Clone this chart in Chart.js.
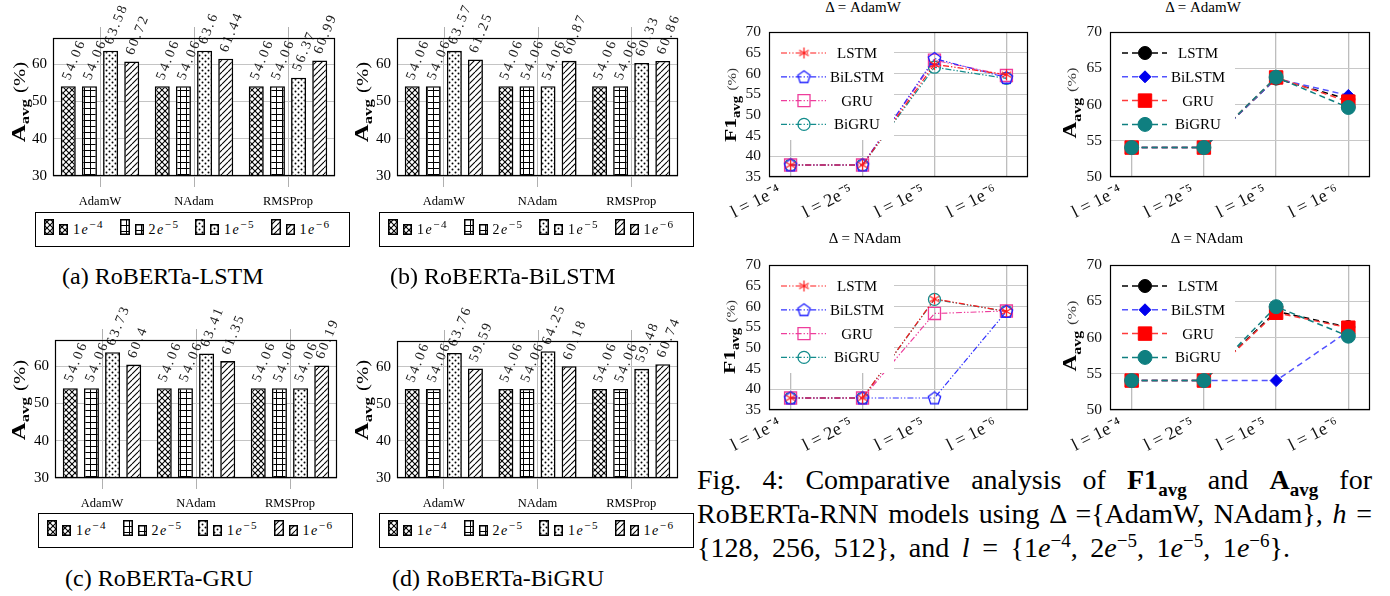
<!DOCTYPE html>
<html>
<head>
<meta charset="utf-8">
<title>Fig. 4</title>
<script src="https://cdn.jsdelivr.net/npm/chart.js@4.4.1/dist/chart.umd.min.js"></script>
<style>
html,body{margin:0;padding:0;background:#fff}
body{position:relative;width:1390px;height:596px;overflow:hidden;font-family:'Liberation Serif','Times New Roman',serif;color:#000}
canvas{position:absolute;display:block}
.t{position:absolute;white-space:nowrap;line-height:1}
.ctr{transform:translate(-50%,-50%)}
.yt{position:absolute;white-space:nowrap;line-height:1}
sub,sup{line-height:0;font-size:68%}
.blg{position:absolute;border:1px solid #000;box-sizing:border-box;background:#fff}
.blg .lab{position:absolute;font-size:14px;letter-spacing:1.5px;line-height:1;white-space:nowrap}
.blg .lab sup{font-size:80%}
.cap{position:absolute;left:697px;font-size:28px;line-height:34px;white-space:nowrap}
.sc{position:absolute;font-size:24px;line-height:1;white-space:nowrap;transform:translateY(-50%)}
</style>
</head>
<body>
<script>
// ---------------- data ----------------
const optimizers = ['AdamW', 'NAdam', 'RMSProp'];
const lrBase = ['1', '2', '1', '1'];
const lrExp = ['\u22124', '\u22125', '\u22125', '\u22126'];
const lrTicks = ['l = 1e\u207B\u2074', 'l = 2e\u207B\u2075', 'l = 1e\u207B\u2075', 'l = 1e\u207B\u2076'];
const models = ['LSTM', 'BiLSTM', 'GRU', 'BiGRU'];
const barYTicks = [30, 40, 50, 60];
const f1YTicks = [35, 40, 45, 50, 55, 60, 65, 70];
const accYTicks = [50, 55, 60, 65, 70];

// A_avg (%) per model and optimizer; learning rates 1e-4, 2e-5, 1e-5, 1e-6
const lstmAdamW = [54.06, 54.06, 63.58, 60.72];
const lstmNAdam = [54.06, 54.06, 63.6, 61.44];
const lstmRMSProp = [54.06, 54.06, 56.37, 60.99];
const bilstmAdamW = [54.06, 54.06, 63.57, 61.25];
const bilstmNAdam = [54.06, 54.06, 54.06, 60.87];
const bilstmRMSProp = [54.06, 54.06, 60.33, 60.86];
const gruAdamW = [54.06, 54.06, 63.73, 60.4];
const gruNAdam = [54.06, 54.06, 63.41, 61.35];
const gruRMSProp = [54.06, 54.06, 54.06, 60.19];
const bigruAdamW = [54.06, 54.06, 63.76, 59.59];
const bigruNAdam = [54.06, 54.06, 64.25, 60.18];
const bigruRMSProp = [54.06, 54.06, 59.48, 60.74];

// F1_avg (%)
const f1AdamW_LSTM = [37.9, 37.9, 62.2, 59.7];
const f1AdamW_BiLSTM = [37.9, 37.9, 63.6, 59.0];
const f1AdamW_GRU = [37.9, 37.9, 63.2, 59.5];
const f1AdamW_BiGRU = [37.9, 37.9, 61.5, 58.8];
const f1NAdam_LSTM = [37.9, 37.9, 61.8, 58.8];
const f1NAdam_BiLSTM = [37.9, 37.9, 37.9, 58.8];
const f1NAdam_GRU = [37.9, 37.9, 58.3, 58.9];
const f1NAdam_BiGRU = [37.9, 37.9, 61.7, 58.8];

// ---------------- helpers ----------------
Chart.defaults.font.family = "'Liberation Serif', 'Times New Roman', serif";
Chart.defaults.color = '#111';

function mkCanvas(p) {
  const c = document.createElement('canvas');
  c.width = p.w; c.height = p.h;
  Object.assign(c.style, {left: p.x + 'px', top: p.y + 'px', width: p.w + 'px', height: p.h + 'px'});
  document.body.appendChild(c);
  return c;
}
function fixedLayout(p, a) {
  return {padding: {left: 0, right: p.x + p.w - a.r, top: a.t - p.y, bottom: 0}, autoPadding: false};
}
function yFit(p, a) { return s => { s.width = a.l - p.x; s.paddingTop = 0; s.paddingBottom = 0; }; }
function xFit(p, a) { return s => { s.height = p.y + p.h - a.b; s.paddingLeft = 0; s.paddingRight = 0; }; }

// tiles for bar patterns
function tile(kind) {
  const s = 6;
  const c = document.createElement('canvas'); c.width = s; c.height = s;
  const g = c.getContext('2d');
  g.fillStyle = '#fff'; g.fillRect(0, 0, s, s);
  g.strokeStyle = '#000'; g.fillStyle = '#000'; g.lineWidth = 1.1;
  if (kind === 'cross') {
    for (const dx of [-s, 0, s]) {
      g.beginPath(); g.moveTo(dx, 0); g.lineTo(dx + s, s); g.stroke();
      g.beginPath(); g.moveTo(dx + s, 0); g.lineTo(dx, s); g.stroke();
    }
  } else if (kind === 'grid') {
    g.fillRect(0, 0, s, 1); g.fillRect(0, 0, 1, s);
  } else if (kind === 'dots') {
    for (const [x, y] of [[1.5, 1.5], [4.5, 4.5]]) { g.beginPath(); g.arc(x, y, 1.0, 0, Math.PI * 2); g.fill(); }
  } else {
    for (const dx of [-s, 0, s]) { g.beginPath(); g.moveTo(dx, s); g.lineTo(dx + s, 0); g.stroke(); }
  }
  return c;
}
const patternKinds = ['cross', 'grid', 'dots', 'ne'];
const tiles = patternKinds.map(tile);
const tmpCtx = document.createElement('canvas').getContext('2d');
const patterns = tiles.map(t => tmpCtx.createPattern(t, 'repeat'));

function swatch(i, w, h) {
  const c = document.createElement('canvas'); c.width = w; c.height = h;
  const g = c.getContext('2d');
  g.fillStyle = g.createPattern(tiles[i], 'repeat'); g.fillRect(0, 0, w, h);
  g.strokeStyle = '#000'; g.lineWidth = 1.5; g.strokeRect(0.75, 0.75, w - 1.5, h - 1.5);
  c.style.position = 'absolute';
  return c;
}

// ---------------- plugins ----------------
const framePlugin = {
  id: 'frame',
  afterDraw(chart, args, o) {
    const {ctx, chartArea: a} = chart;
    ctx.save();
    ctx.strokeStyle = '#000'; ctx.lineWidth = o.lw || 1;
    ctx.strokeRect(a.left + 0.5, a.top + 0.5, a.right - a.left - 1, a.bottom - a.top - 1);
    ctx.restore();
  }
};
const gridExtPlugin = {
  id: 'gridExt',
  afterDraw(chart, args, o) {
    const {ctx, chartArea: a} = chart;
    const xs = chart.scales.x;
    ctx.save();
    ctx.strokeStyle = '#b0b0b0'; ctx.lineWidth = 1;
    xs.ticks.forEach((t, i) => {
      const x = Math.round(xs.getPixelForTick(i)) + 0.5;
      ctx.beginPath(); ctx.moveTo(x, a.top - o.len); ctx.lineTo(x, a.top); ctx.stroke();
    });
    ctx.restore();
  }
};
const valueLabelPlugin = {
  id: 'valueLabels',
  afterDatasetsDraw(chart, args, o) {
    const ctx = chart.ctx;
    chart.data.datasets.forEach((ds, di) => {
      chart.getDatasetMeta(di).data.forEach((el, i) => {
        ctx.save();
        ctx.translate(el.x + o.dx, el.y + o.dy);
        ctx.rotate(-o.angle * Math.PI / 180);
        ctx.font = o.font; ctx.fillStyle = '#222';
        if ('letterSpacing' in ctx) ctx.letterSpacing = o.spacing;
        ctx.textAlign = 'left'; ctx.textBaseline = 'middle';
        ctx.fillText(String(ds.data[i]), 0, 0);
        ctx.restore();
      });
    });
  }
};
const innerLegendPlugin = {
  id: 'innerLegend',
  afterDatasetsDraw(chart, args, o) {
    const {ctx, chartArea: a} = chart;
    ctx.save();
    ctx.fillStyle = '#fff';
    ctx.fillRect(a.left + 1, a.top + 1, o.w, o.h);
    chart.data.datasets.forEach((ds, i) => {
      const y = a.top + o.y0 + i * o.dy;
      ctx.save();
      ctx.strokeStyle = ds.legendLineColor || ds.borderColor; ctx.lineWidth = ds.borderWidth;
      ctx.setLineDash(ds.borderDash || []);
      ctx.beginPath(); ctx.moveTo(a.left + o.x1, y); ctx.lineTo(a.left + o.x2, y); ctx.stroke();
      ctx.setLineDash([]);
      ctx.fillStyle = ds.pointBackgroundColor; ctx.strokeStyle = ds.pointBorderColor;
      ctx.lineWidth = ds.pointBorderWidth;
      Chart.helpers.drawPoint(ctx, {pointStyle: ds.pointStyle, radius: ds.pointRadius, borderWidth: ds.pointBorderWidth, rotation: 0}, a.left + o.xm, y);
      ctx.restore();
      ctx.fillStyle = '#000'; ctx.font = o.font; ctx.textAlign = 'center'; ctx.textBaseline = 'middle';
      ctx.fillText(ds.label, a.left + o.xt, y + 1);
    });
    ctx.restore();
  }
};

// ---------------- bar charts ----------------
function makeBar(p, a, adamW, nadam, rms) {
  const canvas = mkCanvas(p);
  const datasets = lrExp.map((e, i) => ({
    label: lrBase[i] + 'e' + e,
    data: [adamW[i], nadam[i], rms[i]],
    backgroundColor: patterns[i],
    borderColor: '#000', borderWidth: 1.6,
    categoryPercentage: 0.9, barPercentage: 0.71
  }));
  new Chart(canvas, {
    type: 'bar',
    data: {labels: optimizers, datasets},
    options: {
      responsive: false, animation: false, events: [],
      layout: fixedLayout(p, a),
      plugins: {legend: {display: false}, tooltip: {enabled: false},
        frame: {lw: 1.2}, gridExt: {len: 11},
        valueLabels: {dx: -2, dy: -7, angle: 68, font: "14px 'Liberation Serif'", spacing: '2.2px'}},
      scales: {
        x: {offset: true, grid: {offset: false, color: '#b8b8b8', tickColor: '#b0b0b0', tickLength: 11},
            border: {display: false},
            ticks: {font: {size: 12.5}, color: '#000', padding: 7, maxRotation: 0},
            afterFit: xFit(p, a)},
        y: {min: 30, max: 67, grid: {color: '#c4c4c4', drawTicks: false}, border: {display: false},
            ticks: {font: {size: 15}, color: '#000', padding: 6, autoSkip: false},
            afterBuildTicks: s => { s.ticks = barYTicks.map(v => ({value: v})); },
            afterFit: yFit(p, a)}
      }
    },
    plugins: [framePlugin, gridExtPlugin, valueLabelPlugin]
  });
}

function barLegend(x, y) {
  const d = document.createElement('div'); d.className = 'blg';
  Object.assign(d.style, {left: x + 'px', top: y + 'px', width: '315px', height: '35px'});
  patternKinds.forEach((k, i) => {
    const ox = 8 + i * 75.5;
    const big = swatch(i, 10, 16); big.style.left = ox + 'px'; big.style.top = '6px';
    const sm = swatch(i, 9, 11); sm.style.left = (ox + 15) + 'px'; sm.style.top = '11px';
    const lab = document.createElement('span'); lab.className = 'lab';
    lab.style.left = (ox + 29) + 'px'; lab.style.top = '10px';
    lab.innerHTML = lrBase[i] + '<i>e</i><sup>' + lrExp[i] + '</sup>';
    d.append(big, sm, lab);
  });
  document.body.appendChild(d);
}

// ---------------- line charts ----------------
function asteriskImg(color, r, lw) {
  const s = Math.ceil(2 * r + 4);
  const c = document.createElement('canvas'); c.width = s; c.height = s;
  const g = c.getContext('2d');
  g.translate(s / 2, s / 2); g.strokeStyle = color; g.lineWidth = lw;
  for (let k = 0; k < 3; k++) {
    const an = Math.PI / 2 + k * Math.PI / 3;
    g.beginPath(); g.moveTo(-r * Math.cos(an), -r * Math.sin(an)); g.lineTo(r * Math.cos(an), r * Math.sin(an)); g.stroke();
  }
  return c;
}
function pentagonImg(color, r, lw) {
  const s = Math.ceil(2 * r + 4);
  const c = document.createElement('canvas'); c.width = s; c.height = s;
  const g = c.getContext('2d');
  g.translate(s / 2, s / 2 + 0.5); g.strokeStyle = color; g.lineWidth = lw;
  g.beginPath();
  for (let k = 0; k < 5; k++) {
    const an = -Math.PI / 2 + k * 2 * Math.PI / 5;
    const px = r * Math.cos(an), py = r * Math.sin(an);
    if (k === 0) g.moveTo(px, py); else g.lineTo(px, py);
  }
  g.closePath(); g.stroke();
  return c;
}

const f1Styles = [
  {color: '#ff1a1a', point: asteriskImg('#ff1a1a', 5.5, 1.2), radius: 6, fill: 'rgba(0,0,0,0)'},
  {color: '#3030ff', point: pentagonImg('#2020ff', 6.5, 1.3), radius: 6, fill: 'rgba(0,0,0,0)'},
  {color: '#ee3d9c', point: 'rect', radius: 8.5, fill: 'rgba(0,0,0,0)'},
  {color: '#128c8c', point: 'circle', radius: 6, fill: 'rgba(0,0,0,0)'}
];
const accStyles = [
  {color: '#000000', line: '#000000', point: 'circle', radius: 6.5},
  {color: '#0000ee', line: '#5252ff', point: 'rectRot', radius: 6},
  {color: '#ff0000', line: '#ff3a3a', point: 'rect', radius: 9.5},
  {color: '#0f7f80', line: '#0f7f80', point: 'circle', radius: 7}
];

function makeLine(p, a, series, kind) {
  const canvas = mkCanvas(p);
  const isF1 = kind === 'f1';
  const datasets = models.map((m, i) => {
    const d = series[i].map((v, j) => ({x: j, y: v}));
    if (isF1) {
      const st = f1Styles[i];
      return {label: m, data: d, borderColor: st.color, borderWidth: 1.2, borderDash: [6, 2, 1.3, 2, 1.3, 2],
        pointStyle: st.point, pointRadius: st.radius, pointBorderColor: st.color, pointBackgroundColor: st.fill,
        pointBorderWidth: 1.3, tension: 0, fill: false};
    }
    const st = accStyles[i];
    return {label: m, data: d, borderColor: st.line, legendLineColor: st.line, borderWidth: 1.5, borderDash: [6, 4],
      pointStyle: st.point, pointRadius: st.radius, pointBorderColor: st.color, pointBackgroundColor: st.color,
      pointBorderWidth: 1, tension: 0, fill: false, order: 3 - i};
  });
  const yt = isF1 ? f1YTicks : accYTicks;
  new Chart(canvas, {
    type: 'line',
    data: {datasets},
    options: {
      responsive: false, animation: false, events: [],
      layout: fixedLayout(p, a),
      plugins: {legend: {display: false}, tooltip: {enabled: false}, frame: {lw: 1.2},
        innerLegend: {w: 124, h: 107, y0: 21, dy: 23.8, x1: 12, x2: 57, xm: 35, xt: 88, font: "15px 'Liberation Serif'"}},
      scales: {
        x: {type: 'linear', min: -0.3, max: 3.3,
            afterBuildTicks: s => { s.ticks = lrTicks.map((_, i) => ({value: i})); },
            grid: {color: '#bdbdbd', lineWidth: 1.3, drawTicks: false}, border: {display: false},
            ticks: {callback: v => lrTicks[v], autoSkip: false, minRotation: 27, maxRotation: 27,
                    labelOffset: -11, padding: 3, font: {size: 18}, color: '#111'},
            afterFit: xFit(p, a)},
        y: {min: yt[0], max: yt[yt.length - 1],
            afterBuildTicks: s => { s.ticks = yt.map(v => ({value: v})); },
            grid: {color: '#c8c8c8', lineWidth: 1, drawTicks: false}, border: {display: false},
            ticks: {font: {size: 15.5}, color: '#111', padding: 8, autoSkip: false},
            afterFit: yFit(p, a)}
      }
    },
    plugins: [innerLegendPlugin, framePlugin]
  });
}

// ---------------- HTML text ----------------
function txt(html, cls, style) {
  const d = document.createElement('div'); d.className = cls; d.innerHTML = html;
  Object.assign(d.style, style); document.body.appendChild(d); return d;
}
function yTitle(html, x, y, size, stretch) {
  return txt(html, 'yt', {left: x + 'px', top: y + 'px', fontSize: size + 'px',
    transform: `translate(-50%,-50%) rotate(-90deg) scaleX(${stretch})`});
}

// ---------------- build ----------------
makeBar({x: 0, y: 0, w: 350, h: 214}, {l: 53, t: 38, r: 335, b: 176}, lstmAdamW, lstmNAdam, lstmRMSProp);
makeBar({x: 343, y: 0, w: 350, h: 214}, {l: 397, t: 38, r: 678, b: 176}, bilstmAdamW, bilstmNAdam, bilstmRMSProp);
makeBar({x: 0, y: 296, w: 350, h: 214}, {l: 55, t: 340, r: 337, b: 478}, gruAdamW, gruNAdam, gruRMSProp);
makeBar({x: 343, y: 296, w: 350, h: 214}, {l: 397, t: 341, r: 678, b: 478}, bigruAdamW, bigruNAdam, bigruRMSProp);

barLegend(35, 212); barLegend(379, 212); barLegend(38, 513); barLegend(379, 513);

makeLine({x: 700, y: 16, w: 340, h: 214}, {l: 769, t: 32, r: 1028, b: 177},
  [f1AdamW_LSTM, f1AdamW_BiLSTM, f1AdamW_GRU, f1AdamW_BiGRU], 'f1');
makeLine({x: 1040, y: 16, w: 350, h: 214}, {l: 1110, t: 32, r: 1370, b: 177},
  [lstmAdamW, bilstmAdamW, gruAdamW, bigruAdamW], 'acc');
makeLine({x: 700, y: 249, w: 340, h: 212}, {l: 769, t: 265, r: 1028, b: 410},
  [f1NAdam_LSTM, f1NAdam_BiLSTM, f1NAdam_GRU, f1NAdam_BiGRU], 'f1');
makeLine({x: 1040, y: 249, w: 350, h: 212}, {l: 1110, t: 265, r: 1370, b: 410},
  [lstmNAdam, bilstmNAdam, gruNAdam, bigruNAdam], 'acc');

// titles of the line charts
txt('\u0394 = AdamW', 't ctr', {left: '863px', top: '7px', fontSize: '15px'});
txt('\u0394 = AdamW', 't ctr', {left: '1203px', top: '7px', fontSize: '15px'});
txt('\u0394 = NAdam', 't ctr', {left: '865px', top: '238px', fontSize: '15px'});
txt('\u0394 = NAdam', 't ctr', {left: '1207px', top: '238px', fontSize: '15px'});

// y-axis titles
const aBar = '<b>A<sub>avg</sub></b> <span style="font-size:84%">(%)</span>';
yTitle(aBar, 18, 102, 19, 1.3); yTitle(aBar, 361, 102, 19, 1.3);
yTitle(aBar, 18, 400, 19, 1.3); yTitle(aBar, 361, 400, 19, 1.3);
const f1L = '<b>F1<sub>avg</sub></b> <span style="font-size:70%;color:#333">(%)</span>';
const aL = '<b>A<sub>avg</sub></b> <span style="font-size:70%;color:#333">(%)</span>';
yTitle(f1L, 730, 105, 17, 1.27); yTitle(f1L, 729, 337, 17, 1.27);
yTitle(aL, 1070, 103, 18, 1.3); yTitle(aL, 1070, 336, 18, 1.3);

// sub-captions
txt('(a) RoBERTa-LSTM', 'sc', {left: '62px', top: '276px'});
txt('(b) RoBERTa-BiLSTM', 'sc', {left: '390px', top: '276px'});
txt('(c) RoBERTa-GRU', 'sc', {left: '65px', top: '578px'});
txt('(d) RoBERTa-BiGRU', 'sc', {left: '392px', top: '578px'});

// figure caption
const c1 = txt('Fig. 4: Comparative analysis of <b>F1<sub>avg</sub></b> and <b>A<sub>avg</sub></b> for', 'cap', {top: '463px'});
const c2 = txt('RoBERTa-RNN models using \u0394 ={AdamW, NAdam}, <i>h</i> =', 'cap', {top: '497px'});
const c3 = txt('{128, 256, 512}, and <i>l</i> = {1<i>e</i><sup>\u22124</sup>, 2<i>e</i><sup>\u22125</sup>, 1<i>e</i><sup>\u22125</sup>, 1<i>e</i><sup>\u22126</sup>}.', 'cap', {top: '531px'});
[[c1, 675], [c2, 675], [c3, 593]].forEach(([el, target]) => {
  const nat = el.getBoundingClientRect().width;
  const spaces = (el.textContent.match(/ /g) || []).length;
  if (nat < target) el.style.wordSpacing = ((target - nat) / spaces) + 'px';
  else { el.style.transformOrigin = 'left center'; el.style.transform = `scaleX(${target / nat})`; }
});
</script>
</body>
</html>
